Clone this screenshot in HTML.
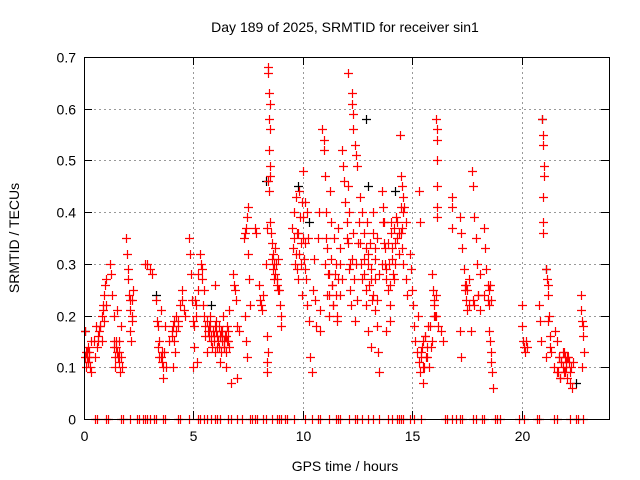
<!DOCTYPE html>
<html><head><meta charset="utf-8"><style>
body{margin:0;background:#fff;}
svg{display:block;font-family:"Liberation Sans",sans-serif;}
</style></head><body>
<svg id="c" width="640" height="480">
<text x="345" y="32" text-anchor="middle" font-size="14">Day 189 of 2025, SRMTID for receiver sin1</text>
<text x="345" y="471" text-anchor="middle" font-size="14">GPS time / hours</text>
<text transform="translate(19,238) rotate(-90)" text-anchor="middle" font-size="14">SRMTID / TECUs</text>
<g id="grid"></g><g id="ticks"></g><g id="pts"></g>
<rect x="84.5" y="57.5" width="525" height="362" fill="none" stroke="#000"/>
</svg>
<script>
const xTicks=[0,5,10,15,20];
const yTicks=[0,0.1,0.2,0.3,0.4,0.5,0.6,0.7];
const yTickLabels=["0","0.1","0.2","0.3","0.4","0.5","0.6","0.7"];
const redT=[0.05,0.05,0.1,0.1,0.15,0.2,0.2,0.25,0.3,0.3,0.45,0.5,0.55,0.6,0.65,0.7,0.75,0.8,0.85,0.9,0.95,1.0,0.8,1.2,1.25,1.3,1.35,1.35,1.4,1.45,1.5,1.55,1.6,1.65,1.7,1.75,1.6,1.9,1.95,2.0,2.05,2.1,2.1,2.15,2.2,2.2,2.25,2.8,2.9,3.0,3.1,3.3,3.35,3.4,3.45,3.5,3.55,3.6,3.65,3.7,3.75,3.9,4.0,4.05,4.1,4.15,4.2,4.3,4.4,4.5,4.55,4.6,4.8,4.85,4.9,4.95,5.0,5.0,5.05,5.1,5.15,5.2,5.3,5.35,5.4,5.45,5.5,5.55,5.6,5.7,5.75,5.8,5.85,5.9,5.95,6.0,6.0,6.05,6.1,6.15,6.2,6.25,6.3,6.35,6.4,6.45,6.5,6.55,6.6,6.65,6.7,6.5,6.8,6.85,6.9,6.95,7.0,7.1,7.0,7.3,7.35,7.4,7.45,7.5,7.5,7.55,7.4,7.45,7.35,7.6,7.8,7.85,8.0,8.05,8.1,8.15,8.2,8.3,8.4,8.42,8.45,8.5,8.45,8.5,8.45,8.48,8.5,8.45,8.4,8.38,8.35,8.35,8.35,8.4,8.5,8.55,8.6,8.65,8.7,8.75,8.8,8.85,8.9,8.95,9.0,9.0,9.5,9.55,9.6,9.65,9.7,9.75,9.8,9.85,9.9,9.95,10.0,10.0,10.05,10.1,10.15,10.2,10.25,10.3,10.35,10.4,10.45,10.5,10.55,10.6,10.7,10.75,10.8,10.8,10.9,10.95,10.95,11.0,11.05,11.1,11.15,11.2,11.25,11.3,11.35,11.4,11.5,11.55,11.6,11.7,11.8,11.85,11.9,11.95,12.0,12.05,12.1,12.15,12.2,12.25,12.3,12.35,12.4,12.45,12.5,12.05,12.25,12.25,12.3,12.3,12.4,12.45,12.5,12.6,12.7,12.8,12.9,13.0,13.1,13.2,13.3,13.4,13.45,13.5,12.9,13.0,13.1,13.2,13.3,13.4,13.5,13.6,13.65,13.7,13.75,13.8,13.9,14.0,14.05,14.1,14.15,14.2,14.3,13.8,14.0,14.45,14.5,14.55,14.6,14.65,14.7,14.5,14.55,14.6,14.7,14.75,14.9,14.95,15.0,15.05,15.1,15.15,15.2,15.25,15.3,15.35,15.4,15.45,15.5,15.55,15.6,15.7,15.8,15.85,15.9,15.95,16.0,16.05,16.1,16.1,16.12,16.15,16.15,16.15,16.15,16.12,16.2,16.3,16.4,16.8,16.8,16.8,17.2,17.25,17.3,17.35,17.4,17.45,17.5,17.2,17.25,17.6,17.75,17.8,17.85,17.9,17.95,17.8,17.85,18.0,18.1,17.7,18.3,18.35,18.4,18.45,18.3,18.5,18.55,18.6,18.65,18.7,18.5,18.6,20.0,20.0,20.05,20.1,20.15,20.2,20.25,20.8,20.85,20.9,20.95,21.0,21.0,21.05,21.05,21.0,21.0,21.0,21.1,21.15,21.2,21.2,21.25,21.3,21.1,21.35,21.5,21.6,21.7,21.75,21.8,21.9,21.95,22.0,22.05,22.1,22.2,22.25,22.3,22.35,22.7,22.7,22.75,22.8,22.85,22.75,22.8];
const redV=[0.17,0.12,0.10,0.13,0.12,0.11,0.14,0.13,0.09,0.15,0.15,0.12,0.18,0.14,0.16,0.17,0.18,0.20,0.22,0.24,0.26,0.27,0.15,0.30,0.28,0.24,0.20,0.15,0.10,0.14,0.21,0.12,0.15,0.09,0.18,0.10,0.13,0.35,0.32,0.27,0.24,0.21,0.17,0.15,0.23,0.19,0.25,0.30,0.30,0.29,0.28,0.23,0.19,0.14,0.12,0.21,0.11,0.08,0.13,0.18,0.10,0.15,0.17,0.10,0.19,0.13,0.20,0.18,0.22,0.25,0.21,0.20,0.35,0.32,0.28,0.23,0.10,0.19,0.14,0.22,0.11,0.25,0.32,0.30,0.27,0.22,0.20,0.16,0.13,0.18,0.20,0.16,0.14,0.17,0.15,0.26,0.13,0.19,0.16,0.14,0.11,0.17,0.15,0.20,0.14,0.16,0.13,0.18,0.15,0.21,0.07,0.10,0.28,0.26,0.25,0.23,0.18,0.17,0.08,0.35,0.36,0.37,0.39,0.41,0.32,0.27,0.15,0.12,0.20,0.22,0.37,0.36,0.26,0.23,0.22,0.21,0.24,0.30,0.68,0.67,0.63,0.61,0.58,0.56,0.52,0.49,0.47,0.44,0.46,0.37,0.16,0.11,0.09,0.13,0.38,0.36,0.34,0.32,0.30,0.28,0.26,0.31,0.25,0.22,0.18,0.20,0.37,0.33,0.40,0.30,0.43,0.36,0.27,0.44,0.34,0.24,0.48,0.39,0.31,0.42,0.27,0.22,0.35,0.19,0.12,0.09,0.25,0.31,0.23,0.18,0.35,0.40,0.21,0.17,0.56,0.54,0.52,0.47,0.40,0.33,0.28,0.24,0.44,0.38,0.26,0.22,0.30,0.19,0.27,0.33,0.52,0.49,0.46,0.42,0.38,0.34,0.29,0.25,0.22,0.31,0.36,0.27,0.19,0.30,0.23,0.67,0.63,0.61,0.59,0.56,0.53,0.51,0.49,0.43,0.40,0.36,0.33,0.30,0.27,0.24,0.21,0.18,0.13,0.09,0.22,0.17,0.14,0.36,0.31,0.35,0.28,0.44,0.41,0.38,0.33,0.29,0.25,0.22,0.36,0.31,0.27,0.34,0.38,0.17,0.19,0.55,0.47,0.45,0.43,0.41,0.38,0.36,0.33,0.30,0.27,0.24,0.32,0.29,0.25,0.22,0.18,0.15,0.13,0.20,0.11,0.09,0.12,0.14,0.07,0.10,0.16,0.12,0.18,0.14,0.28,0.25,0.22,0.20,0.24,0.58,0.56,0.54,0.50,0.45,0.41,0.39,0.18,0.17,0.15,0.43,0.41,0.37,0.39,0.36,0.33,0.29,0.26,0.23,0.21,0.17,0.12,0.27,0.48,0.45,0.39,0.35,0.30,0.23,0.22,0.24,0.21,0.17,0.37,0.33,0.29,0.26,0.24,0.22,0.15,0.13,0.09,0.06,0.17,0.11,0.22,0.18,0.15,0.14,0.13,0.15,0.14,0.22,0.19,0.15,0.58,0.55,0.53,0.49,0.47,0.43,0.38,0.36,0.29,0.27,0.26,0.24,0.20,0.16,0.12,0.13,0.10,0.09,0.12,0.08,0.11,0.10,0.13,0.09,0.11,0.12,0.07,0.10,0.06,0.11,0.24,0.21,0.19,0.16,0.13,0.10,0.18];
const redT2=[0.12,0.18,0.22,0.28,0.62,0.72,0.88,0.92,1.02,1.38,1.42,1.48,1.52,1.58,1.68,2.02,2.08,2.18,3.38,3.42,3.52,3.58,3.62,4.02,4.08,4.12,4.22,4.28,4.48,5.02,5.08,5.12,5.22,5.38,5.48,5.52,5.62,5.68,5.72,5.78,5.82,5.92,5.98,6.02,6.08,6.12,6.18,6.22,6.28,6.32,6.38,6.42,6.48,6.52,6.58,6.62,8.58,8.62,8.68,8.72,8.78,8.82,8.88,9.62,9.68,9.72,9.78,9.82,9.88,9.92,9.98,10.02,10.08,10.12,10.18,11.02,11.08,11.12,11.18,11.22,11.28,11.32,11.38,11.42,11.48,11.52,11.58,11.62,11.68,11.72,11.78,12.02,12.08,12.12,12.18,12.52,12.58,12.62,12.68,12.72,12.78,12.82,12.88,12.92,12.98,13.02,13.08,13.12,13.18,13.22,13.28,13.32,13.38,13.62,13.68,13.72,13.78,13.82,13.88,13.92,13.98,14.02,14.08,14.12,14.18,14.22,14.28,14.32,14.38,14.42,14.48,14.52,14.58,15.32,15.38,15.42,15.48,15.52,15.58,15.62,15.68,15.72,15.78,15.92,15.98,16.02,16.08,17.42,17.48,17.52,17.58,18.02,18.08,18.48,18.52,18.58,18.62,21.22,21.28,21.55,21.62,21.68,21.72,21.78,21.82,21.88,21.92,21.98,22.02,22.08,22.12,22.18,22.22];
const redV2=[0.13,0.11,0.12,0.10,0.15,0.18,0.21,0.19,0.22,0.14,0.12,0.15,0.13,0.11,0.12,0.29,0.23,0.20,0.18,0.15,0.12,0.13,0.10,0.16,0.18,0.15,0.17,0.19,0.23,0.18,0.23,0.20,0.28,0.29,0.25,0.18,0.19,0.17,0.16,0.18,0.15,0.16,0.18,0.17,0.14,0.15,0.18,0.16,0.13,0.17,0.15,0.14,0.16,0.15,0.17,0.14,0.31,0.29,0.27,0.33,0.30,0.27,0.25,0.35,0.32,0.29,0.36,0.32,0.39,0.30,0.42,0.35,0.29,0.34,0.40,0.30,0.35,0.24,0.20,0.28,0.31,0.26,0.22,0.35,0.28,0.24,0.20,0.37,0.24,0.30,0.27,0.35,0.45,0.40,0.30,0.34,0.38,0.34,0.30,0.27,0.31,0.28,0.25,0.38,0.32,0.26,0.34,0.29,0.23,0.40,0.33,0.27,0.23,0.30,0.38,0.34,0.30,0.27,0.34,0.30,0.26,0.38,0.33,0.28,0.37,0.30,0.39,0.35,0.32,0.36,0.41,0.37,0.40,0.44,0.38,0.13,0.15,0.10,0.16,0.12,0.14,0.18,0.10,0.15,0.20,0.23,0.20,0.25,0.26,0.25,0.22,0.24,0.28,0.23,0.25,0.26,0.23,0.19,0.14,0.17,0.15,0.09,0.12,0.08,0.11,0.13,0.09,0.12,0.10,0.08,0.12,0.11,0.09,0.11,0.10];
const blackT=[0.05,3.3,5.8,8.3,9.8,12.9,13.0,20.95,21.1,22.5,6.3,10.3,14.2];
const blackV=[0.17,0.24,0.22,0.46,0.45,0.58,0.45,0.58,0.29,0.07,0.16,0.38,0.44];
const zeroT=[0.5,0.6,1.0,1.1,1.7,1.8,2.1,2.4,2.5,2.7,2.8,2.9,3.0,3.2,3.3,3.6,3.7,4.3,4.4,4.8,5.2,5.3,5.5,5.6,5.8,6.0,6.1,6.2,6.6,6.7,7.0,7.2,7.6,7.7,7.8,7.9,8.2,8.3,8.6,8.8,8.9,9.0,9.2,9.3,9.6,10.1,10.4,10.7,10.8,11.2,11.5,11.6,11.7,12.1,12.4,12.5,12.7,13.0,13.2,13.5,13.9,14.1,14.3,14.4,14.5,14.6,14.9,15.1,15.4,16.5,16.6,16.8,17.0,17.2,17.3,17.8,17.9,18.2,18.3,18.8,18.9,19.0,19.9,20.1,20.7,20.8,21.5,21.6,22.2,22.5,22.6,22.8];
const L=84,R=609,T=57,B=419,XMAX=24,YMAX=0.7;
function sx(v){return L+v/XMAX*(R-L);}
function sy(v){return B-v/YMAX*(B-T);}
const NS="http://www.w3.org/2000/svg";
function mk(tag,attrs,parent){const e=document.createElementNS(NS,tag);for(const k in attrs)e.setAttribute(k,attrs[k]);parent.appendChild(e);return e;}
const grid=document.getElementById('grid'),ticks=document.getElementById('ticks'),pts=document.getElementById('pts');
yTicks.forEach((v,i)=>{const y=Math.round(sy(v))+0.5;
 if(i>0&&i<yTicks.length-1){const g=mk('line',{x1:L,x2:R,y1:y,y2:y,stroke:'#999','stroke-dasharray':'2,3'},grid);
 
 }
 mk('line',{x1:L,x2:L+8,y1:y,y2:y,stroke:'#000'},ticks);mk('line',{x1:R-8,x2:R,y1:y,y2:y,stroke:'#000'},ticks);
 const t=mk('text',{x:L-8,y:y+5,'text-anchor':'end','font-size':14},ticks);t.textContent=yTickLabels[i];
 
 });
xTicks.forEach(v=>{const x=Math.round(sx(v))+0.5;
 if(v>0){const g=mk('line',{x1:x,x2:x,y1:T,y2:B,stroke:'#999','stroke-dasharray':'2,3'},grid);
 
 }
 mk('line',{x1:x,x2:x,y1:B-8,y2:B,stroke:'#000'},ticks);mk('line',{x1:x,x2:x,y1:T,y2:T+8,stroke:'#000'},ticks);
 const t=mk('text',{x:x,y:B+22,'text-anchor':'middle','font-size':14},ticks);t.textContent=String(v);
 
 });
function plus(t,v,col,name){const x=Math.round(sx(t))+0.5,y=Math.round(sy(v))+0.5;
 const p=mk('path',{d:`M${x-4.5},${y}h9M${x},${y-4.5}v9`,stroke:col,'stroke-width':1.2,fill:'none'},pts);
 
 }
blackT.forEach((t,i)=>plus(t,blackV[i],'#000','black-point'));
redT.forEach((t,i)=>plus(t,redV[i],'#f00','red-point'));
redT2.forEach((t,i)=>plus(t,redV2[i],'#f00','red-point'));
zeroT.forEach(t=>plus(t,0,'#f00','zero-point'));
</script>
</body></html>
